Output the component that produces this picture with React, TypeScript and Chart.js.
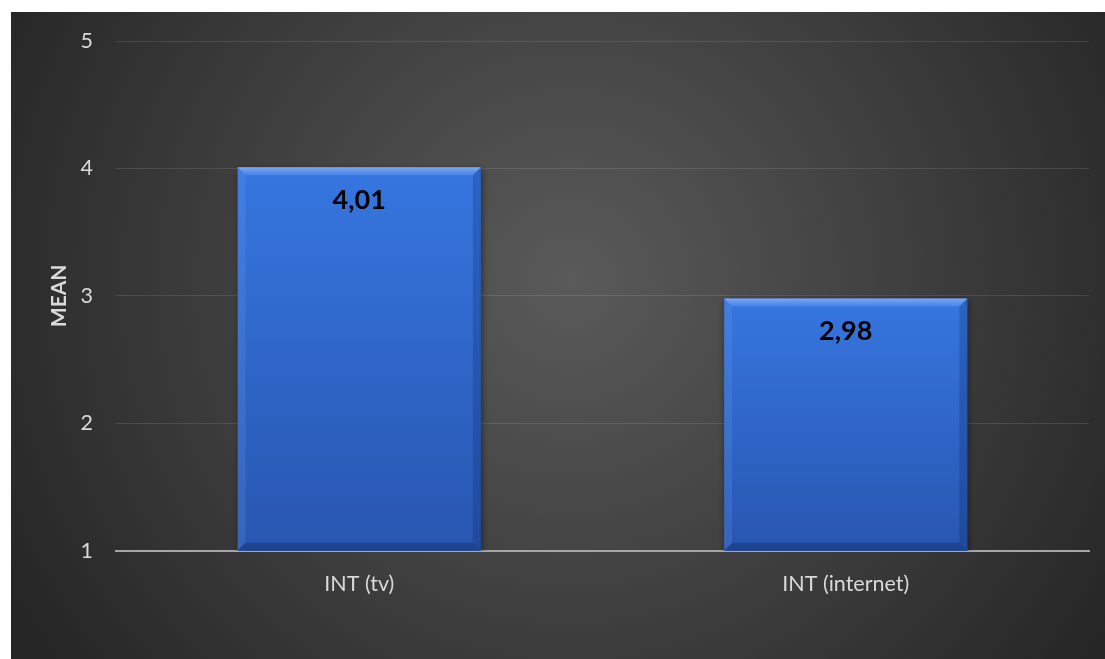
import React, { useEffect, useRef } from "react";
import { Chart, registerables } from "chart.js";

Chart.register(...registerables);

const categories: string[] = ["INT (tv)", "INT (internet)"];
const meanValues: number[] = [4.01, 2.98];
const yTicks: number[] = [1, 2, 3, 4, 5];
const yTitle = "MEAN";

const FONT = "Lato, 'Open Sans', sans-serif";

const bgPlugin = {
  id: "bgPlugin",
  beforeDraw(chart: any) {
    const { ctx, width, height } = chart;
    ctx.save();
    const g = ctx.createRadialGradient(560, 270, 0, 560, 270, 640);
    g.addColorStop(0, "#5a5a5a");
    g.addColorStop(1, "#262626");
    ctx.fillStyle = g;
    ctx.fillRect(0, 0, width, height);
    ctx.restore();
  },
};

const shadowPlugin = {
  id: "shadowPlugin",
  beforeDatasetsDraw(chart: any) {
    const ctx = chart.ctx;
    ctx.save();
    ctx.shadowColor = "rgba(0,0,0,0.55)";
    ctx.shadowBlur = 7;
    ctx.shadowOffsetX = 1;
    ctx.shadowOffsetY = 2;
  },
  afterDatasetsDraw(chart: any) {
    chart.ctx.restore();
  },
};

const bevelPlugin = {
  id: "bevelPlugin",
  afterDatasetsDraw(chart: any) {
    const ctx = chart.ctx;
    const meta = chart.getDatasetMeta(0);
    const area = chart.chartArea;
    const b = 8;
    meta.data.forEach((el: any, i: number) => {
      const { x, y, base, width } = el.getProps(["x", "y", "base", "width"], true);
      const l = x - width / 2;
      const r = x + width / 2;
      const t = y;
      const bt = Math.min(base, area.bottom);
      ctx.save();
      // top
      ctx.beginPath();
      ctx.moveTo(l, t);
      ctx.lineTo(r, t);
      ctx.lineTo(r - b, t + b);
      ctx.lineTo(l + b, t + b);
      ctx.closePath();
      const tg = ctx.createLinearGradient(0, t, 0, t + b);
      tg.addColorStop(0, "rgba(140,185,255,0.8)");
      tg.addColorStop(1, "rgba(110,160,245,0.35)");
      ctx.fillStyle = tg;
      ctx.fill();
      // left
      ctx.beginPath();
      ctx.moveTo(l, t);
      ctx.lineTo(l + b, t + b);
      ctx.lineTo(l + b, bt - b);
      ctx.lineTo(l, bt);
      ctx.closePath();
      ctx.fillStyle = "rgba(120,165,240,0.18)";
      ctx.fill();
      // right
      ctx.beginPath();
      ctx.moveTo(r, t);
      ctx.lineTo(r - b, t + b);
      ctx.lineTo(r - b, bt - b);
      ctx.lineTo(r, bt);
      ctx.closePath();
      ctx.fillStyle = "rgba(10,30,80,0.22)";
      ctx.fill();
      // bottom
      ctx.beginPath();
      ctx.moveTo(l, bt);
      ctx.lineTo(l + b, bt - b);
      ctx.lineTo(r - b, bt - b);
      ctx.lineTo(r, bt);
      ctx.closePath();
      ctx.fillStyle = "rgba(10,25,70,0.3)";
      ctx.fill();
      // label
      ctx.fillStyle = "#000000";
      ctx.font = `bold 27px ${FONT}`;
      ctx.textAlign = "center";
      ctx.textBaseline = "middle";
      const txt = meanValues[i].toFixed(2).replace(".", ",");
      ctx.fillText(txt, x, t + 33);
      ctx.restore();
    });
  },
};

export default function App() {
  const ref = useRef<HTMLCanvasElement | null>(null);
  useEffect(() => {
    if (!ref.current) return;
    const chart = new Chart(ref.current, {
      type: "bar",
      data: {
        labels: categories,
        datasets: [
          {
            data: meanValues,
            backgroundColor: (c: any) => {
              const ch = c.chart;
              const area = ch.chartArea;
              if (!area || !ch.scales || !ch.scales.y) return "#3068cc";
              const v = c.raw ?? meanValues[c.dataIndex] ?? 1;
              const top = ch.scales.y.getPixelForValue(v);
              const bot = ch.scales.y.getPixelForValue(1);
              if (!isFinite(top) || !isFinite(bot) || top === bot) return "#3068cc";
              const g = ch.ctx.createLinearGradient(0, top, 0, bot);
              g.addColorStop(0, "#3676e0");
              g.addColorStop(1, "#2856b0");
              return g;
            },
            borderWidth: 0,
            barPercentage: 0.5,
            categoryPercentage: 1,
          },
        ],
      },
      options: {
        animation: false,
        responsive: true,
        maintainAspectRatio: false,
        layout: { padding: { top: 29, right: 16, left: 0, bottom: 0 } },
        plugins: {
          legend: { display: false },
          tooltip: { enabled: false },
        },
        scales: {
          x: {
            grid: { display: false, drawTicks: false },
            border: { display: true, color: "#a6a6a6", width: 2 },
            ticks: {
              color: "#d9d9d9",
              font: { family: FONT, size: 21.5 },
              padding: 20,
            },
            afterFit: (s: any) => {
              s.height = 108.3;
            },
          },
          y: {
            min: 1,
            max: 5,
            afterBuildTicks: (s: any) => {
              s.ticks = yTicks.map((v) => ({ value: v }));
            },
            grid: { color: "rgba(255,255,255,0.11)", drawTicks: false, lineWidth: 1 },
            border: { display: false },
            ticks: {
              color: "#d9d9d9",
              font: { family: FONT, size: 21.5 },
              padding: 23,
            },
            title: {
              display: true,
              text: yTitle,
              color: "#d9d9d9",
              font: { family: FONT, size: 21, weight: "bold" },
              padding: { top: 36, bottom: 0 },
            },
            afterFit: (s: any) => {
              s.width = 105;
              s.paddingTop = 0;
              s.paddingBottom = 0;
            },
          },
        },
      },
      plugins: [bgPlugin, shadowPlugin, bevelPlugin],
    });
    return () => chart.destroy();
  }, []);
  return (
    <div style={{ position: "absolute", left: 11, top: 12, width: 1094, height: 647 }}>
      <canvas ref={ref} />
    </div>
  );
}
